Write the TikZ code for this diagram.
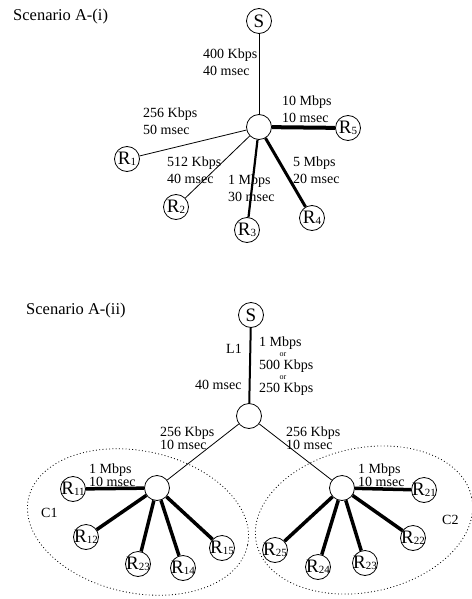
\documentclass[tikz,border=0pt]{standalone}
\usepackage{fontspec}
\setmainfont{Liberation Serif}
\newcommand\Rsub[1]{\makebox[0pt][c]{R{\fontsize{11}{11}\selectfont\raisebox{-1pt}{#1}}}}
\begin{document}
\begin{tikzpicture}[x=1pt,y=-1pt,
  nd/.style={circle,draw,line width=0.8pt,minimum size=25pt,inner sep=0pt,font=\fontsize{19}{19}\selectfont},
  lbl/.style={font=\fontsize{14}{17}\selectfont,align=left,anchor=west,inner sep=0pt},
  tlbl/.style={font=\fontsize{14}{11.5}\selectfont,align=left,anchor=west,inner sep=0pt},
  orlbl/.style={font=\fontsize{8}{8}\selectfont,inner sep=0pt},
  title/.style={font=\fontsize{16.5}{18}\selectfont,anchor=west,inner sep=0pt},
  thin/.style={line width=0.8pt},
  heavy/.style={line width=3.5pt},
  cluster/.style={dash pattern=on 0.9pt off 2.4pt,line width=0.8pt}
]
\useasboundingbox (0,0) rectangle (471,599);

% ---------- Scenario A-(i) ----------
\node[title] (t1) at (13,17) {Scenario A-(i)};
\node[nd] (s1) at (259,21) {S};
\node[nd] (h1) at (259,127) {};
\node[nd] (r1) at (127,159) {\Rsub{1}};
\node[nd] (r2) at (176,207) {\Rsub{2}};
\node[nd] (r3) at (247,230) {\Rsub{3}};
\node[nd] (r4) at (312,218) {\Rsub{4}};
\node[nd] (r5) at (348,128) {\Rsub{5}};

\draw[thin] (s1) -- (h1);
\draw[thin] (h1) -- (r1);
\draw[thin] (h1) -- (r2);
\draw[line width=2.2pt] (h1) -- (r3);
\draw[line width=3pt] (h1) -- (r4);
\draw[line width=4pt] (h1) -- (r5);

\node[lbl] (e1) at (203,62) {400 Kbps\\40 msec};
\node[lbl] (e2) at (143,121.5) {256 Kbps\\50 msec};
\node[lbl] (e3) at (167,170) {512 Kbps\\40 msec};
\node[lbl] (e4) at (228,188) {1 Mbps\\30 msec};
\node[lbl] (e5) at (293,170) {5 Mbps\\20 msec};
\node[lbl] (e6) at (282,109) {10 Mbps\\10 msec};

% ---------- Scenario A-(ii) ----------
\node[title] (t2) at (26,311) {Scenario A-(ii)};

\draw[cluster,rotate around={-12:(138,522)}] (138,522) ellipse [x radius=112, y radius=71];
\draw[cluster,rotate around={12:(364,520)}] (364,520) ellipse [x radius=110, y radius=72];

\node[nd] (s2) at (251,315) {S};
\node[nd] (h2) at (249,416) {};
\node[nd] (a) at (157,488) {};
\node[nd] (b) at (342,488) {};

\node[nd] (r11) at (73,489) {\Rsub{11}};
\node[nd] (r12) at (86,537) {\Rsub{12}};
\node[nd] (r13) at (138,564) {\Rsub{23}};
\node[nd] (r14) at (183,568) {\Rsub{14}};
\node[nd] (r15) at (222,548) {\Rsub{15}};

\node[nd] (r21) at (424,490) {\Rsub{21}};
\node[nd] (r22) at (413,538) {\Rsub{22}};
\node[nd] (r23) at (365,563) {\Rsub{23}};
\node[nd] (r24) at (318,567) {\Rsub{24}};
\node[nd] (r25) at (275,550) {\Rsub{25}};

\draw[line width=2pt] (s2) -- (h2);
\draw[thin] (h2) -- (a);
\draw[thin] (h2) -- (b);
\foreach \t in {r11,r12,r13,r14,r15} \draw[heavy] (a) -- (\t);
\foreach \t in {r21,r22,r23,r24,r25} \draw[heavy] (b) -- (\t);

\node[lbl] (l1) at (226,349) {L1};
\node[lbl] (d1) at (195,385) {40 msec};
\node[lbl] (bw1) at (259,343) {1 Mbps};
\node[orlbl] (or1) at (283,354.5) {or};
\node[lbl] (bw2) at (259,366.5) {500 Kbps};
\node[orlbl] (or2) at (283,377.5) {or};
\node[lbl] (bw3) at (259,389) {250 Kbps};

\node[tlbl] (e7) at (160,438.5) {256 Kbps\\10 msec};
\node[tlbl] (e8) at (286,438.5) {256 Kbps\\10 msec};
\node[tlbl] (e9) at (89,475) {1 Mbps\\10 msec};
\node[tlbl] (e10) at (358,475) {1 Mbps\\10 msec};

\node[lbl] (c1) at (41,513) {C1};
\node[lbl] (c2) at (442,520) {C2};
\end{tikzpicture}
\end{document}
